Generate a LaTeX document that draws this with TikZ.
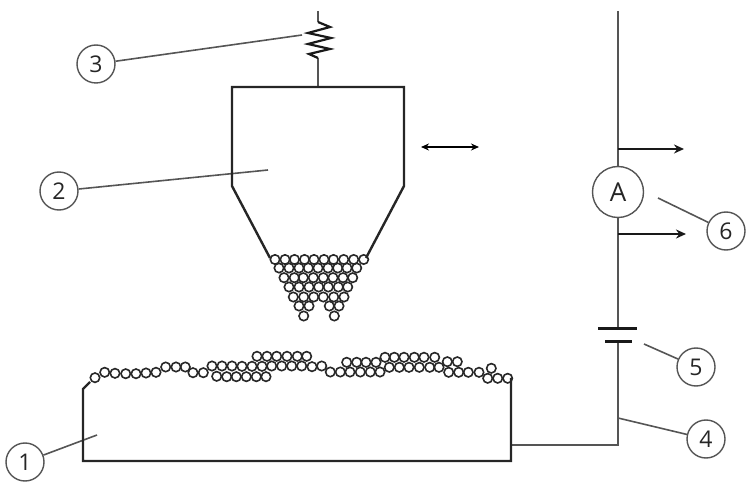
\documentclass[tikz,border=0pt]{standalone}
\usepackage{fontspec}
\setmainfont{Open Sans}
\usepackage{xcolor}
\usetikzlibrary{arrows.meta,positioning}
\definecolor{wireGray}{RGB}{85,85,85}
\definecolor{ballInk}{RGB}{40,40,40}

\begin{document}
\begin{tikzpicture}[
  x=1pt,y=-1pt,
  numlabel/.style={draw=wireGray,circle,line width=1.4pt,minimum size=38pt,inner sep=0pt,font=\fontsize{23}{23}\selectfont,text=black!85,fill=white},
  meter/.style={draw=wireGray,circle,line width=1.4pt,minimum size=51pt,inner sep=0pt,font=\fontsize{26}{26}\selectfont,text=black!85,fill=white},
  wire/.style={draw=wireGray,line width=1.7pt},
  leader/.style={draw=wireGray,line width=1.6pt},
  body/.style={draw=black!85,line width=2.4pt,line join=miter},
  plate/.style={draw=black!90,line width=3pt},
  ball/.style={draw=ballInk,line width=1.6pt},
  arrow/.style={-{Stealth[length=10pt,width=9pt]},line width=2pt,draw=black!90}
]
\useasboundingbox (0,0) rectangle (756,489);
% labels
\node[numlabel] (n1) at (25,462) {1};
\node[numlabel] (n2) at (59,191) {2};
\node[numlabel] (n3) at (96,64) {3};
\node[numlabel] (n4) at (706,439) {4};
\node[numlabel] (n5) at (696,367) {5};
\node[numlabel] (n6) at (726,231) {6};
\node[meter] (amm) at (618,192) {A};
% free ends
\coordinate (top) at (618,11);
\coordinate (plateA) at (618,329);
\coordinate (plateB) at (618,342);
\coordinate (knee) at (618,445);
\coordinate (bodyR) at (511,445);
\coordinate (tap) at (618,418);
\coordinate (out1) at (618,149);
\coordinate (end1) at (684,149);
\coordinate (out2) at (618,234);
\coordinate (end2) at (686,234);
\coordinate (moveL) at (421,147);
\coordinate (moveR) at (479,147);
\coordinate (bodyTag) at (97,435);
\coordinate (hopTag) at (268,170);
\coordinate (sprTag) at (302,35);
\coordinate (ammTag) at (658,198);
\coordinate (batTag) at (644,344);
% circuit
\draw[wire] (top) -- (amm);
\draw[wire] (amm) -- (plateA);
\draw[wire] (plateB) -- (knee) -- (bodyR);
\draw[plate] (598,329) -- (637,329);
\draw[plate] (605,342) -- (632,342);
\draw[arrow] (out1) -- (end1);
\draw[arrow] (out2) -- (end2);
\draw[{Stealth[length=8pt,width=7pt]}-{Stealth[length=8pt,width=7pt]},line width=1.5pt] (moveL) -- (moveR);
% leaders
\draw[leader] (n1) -- (bodyTag);
\draw[leader] (n2) -- (hopTag);
\draw[leader] (n3) -- (sprTag);
\draw[leader] (n4) -- (tap);
\draw[leader] (n5) -- (batTag);
\draw[leader] (n6) -- (ammTag);
% spring
\draw[wire] (318,11) -- (318,22);
\draw[wire] (318,58) -- (318,87);
\draw[line width=2.2pt,draw=black!90] (318,22) -- (330,27) -- (308,33) -- (331,38) -- (308,44) -- (330,49) -- (309,54) -- (318,58);
% hopper
\draw[body] (270,258) -- (232,186) -- (232,87) -- (404,87) -- (404,186) -- (366,258);
% plate with the powder
\draw[body] (90,382) -- (83,389) -- (83,461) -- (511,461) -- (511,378);
% hopper balls
\foreach \y/\xlist in {259.5/{275,285,294.5,304.5,314,324,333.5,343.7,353.7,363.7},
    268/{279,289,299,308.3,318,328,337.7,347,356.7},
    277.7/{284,294.3,303.3,313.3,323.3,333,343,352.7},
    287/{289,299,309,318.7,328.3,338.3,347.7},
    297/{293.3,303.7,313.7,323.3,333.7,344},
    306/{299,309,329.3,339},
    316/{303.7,334.3}}{
  \foreach \x in \xlist {\draw[ball] (\x,\y) circle (4.7);}
}
% pile balls, left half
\foreach \x/\y in {95/377.7,104.7/372.3,115/373.3,125.7/373.7,136/373.7,146/373,156/372.3,
    165.7/367,176/367,185.3/367,193/372.7,203.3/372.7,
    212/366,222/366,232/366,242/366.3,252/366.3,262/366.3,271.7/366,281.7/366,291.7/366,301.7/366,
    216.7/376.3,226.7/376.7,236.3/376.7,246.3/376.7,256.3/376.7,266/376.7,
    257/356.3,267/356.3,276.7/356.3,287/356.3,297.3/356.3,306.7/356.3}{
  \draw[ball] (\x,\y) circle (4.7);
}
% pile balls, right half
\foreach \x/\y in {312/366.7,321.7/366,330.3/372,340.3/372,350/372,360.3/372,370.3/372,380/372,
    346.7/362.3,356.7/362.3,366/362.3,376/362.3,
    385/357.3,394.3/357.3,404/357.3,414.3/357.3,424/357.3,434.7/357.3,
    389.3/367.3,399.3/367.3,409/367.3,419.3/367.3,429.7/367.3,439/367.3,
    447.3/361.7,457.3/361.7,448.7/372.3,458.7/372.3,468.3/372.3,479/372.3,
    491.3/368.3,487.7/378.3,497.7/378.3,507.7/378.3}{
  \draw[ball] (\x,\y) circle (4.7);
}
\end{tikzpicture}
\end{document}
